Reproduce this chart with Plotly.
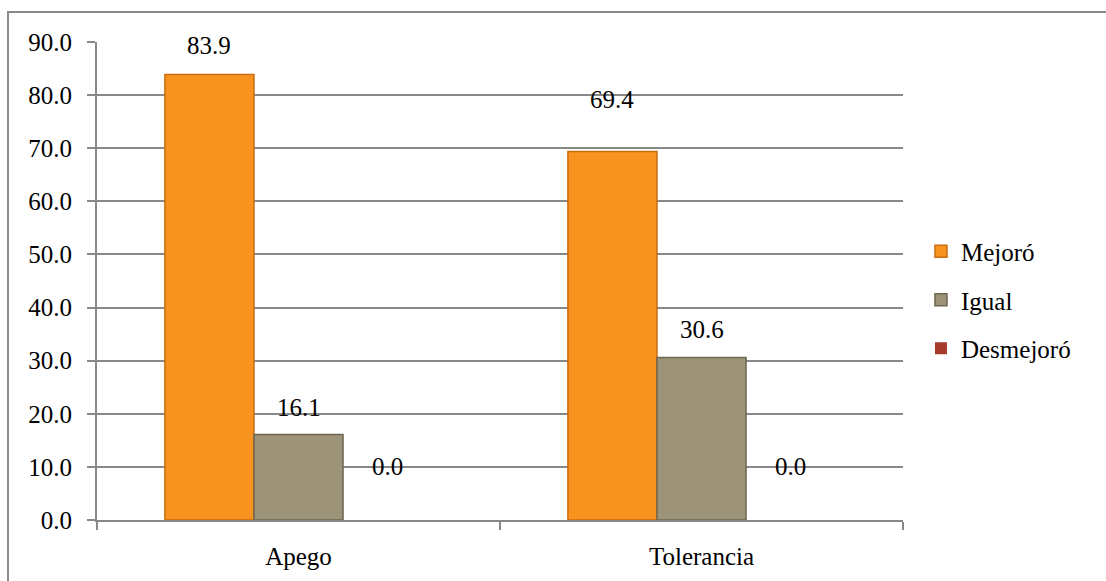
import plotly.graph_objects as go

# Data
categories = ["Apego", "Tolerancia"]
series_names = ["Mejoró", "Igual", "Desmejoró"]
mejoro = [83.9, 69.4]
igual = [16.1, 30.6]
desmejoro = [0.0, 0.0]
y_ticks = [0, 10, 20, 30, 40, 50, 60, 70, 80, 90]

values = [mejoro, igual, desmejoro]
fills = ["#F8931F", "#9D9378", "#A63A2C"]
edges = ["#C96D0E", "#6E6650", "#A63A2C"]
edge_w = [1.5, 1.5, 0]

FONT = "Liberation Serif"
FS = 25
BARGAP = 0.337

fig = go.Figure()
for name, vals, fc, ec, ew in zip(series_names, values, fills, edges, edge_w):
    fig.add_trace(go.Bar(
        x=categories, y=vals, name=name, legendgroup=name,
        marker=dict(color=fc, line=dict(color=ec, width=ew)),
    ))

# value labels, placed above each bar centre
bar_w = (1 - BARGAP) / 3
label_lift = [[29, 52], [27, 28], [54, 54]]
for s, vals in enumerate(values):
    for c, v in enumerate(vals):
        fig.add_annotation(
            x=c + (s - 1) * bar_w, y=v, xref="x", yref="y",
            text=f"{v:.1f}", showarrow=False, yshift=label_lift[s][c],
            font=dict(family=FONT, size=FS, color="#000"),
        )

# outer frame of the chart
fig.add_shape(type="rect", xref="paper", yref="paper",
              x0=-0.1104, x1=1.26, y0=-0.14, y1=1.0628,
              line=dict(color="#8A8A8A", width=2), layer="below")

fig.update_layout(
    width=1106, height=581,
    margin=dict(l=97, r=203, t=42, b=61),
    paper_bgcolor="white", plot_bgcolor="white",
    barmode="group", bargap=BARGAP, bargroupgap=0,
    font=dict(family=FONT, size=FS, color="#000"),
    showlegend=True,
    legend=dict(x=1.0223, xanchor="left", y=0.46, yanchor="middle",
                traceorder="grouped", tracegroupgap=13,
                font=dict(family=FONT, size=FS), itemwidth=30),
    xaxis=dict(
        type="category", showgrid=False, tickson="boundaries",
        ticks="outside", ticklen=8, tickwidth=2, tickcolor="#888",
        showline=True, linecolor="#888", linewidth=2,
        tickfont=dict(family=FONT, size=FS), ticklabelstandoff=13,
    ),
    yaxis=dict(
        range=[0, 90], tickvals=y_ticks, tickformat=".1f",
        showgrid=True, gridcolor="#888", gridwidth=2,
        ticks="outside", ticklen=8, tickwidth=2, tickcolor="#888",
        showline=True, linecolor="#888", linewidth=2,
        zeroline=False, tickfont=dict(family=FONT, size=FS),
        ticklabelstandoff=10,
    ),
)

fig.write_html("out.html")
